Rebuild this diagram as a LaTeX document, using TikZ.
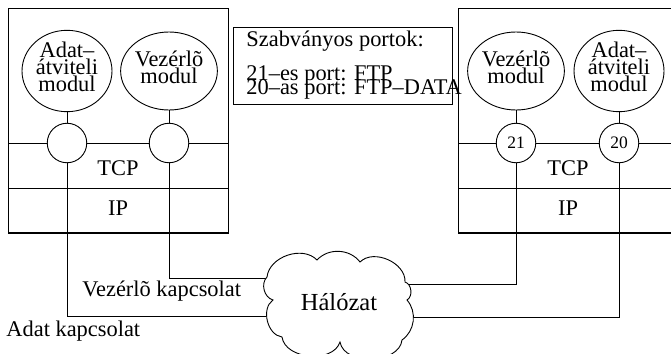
\documentclass[tikz,border=0pt]{standalone}
\usepackage{fontspec}
\setmainfont{Liberation Serif}
\usetikzlibrary{shapes.geometric}
\lineskiplimit=-50pt
\begin{document}
\begin{tikzpicture}[x=1pt,y=-1pt,line width=0.9pt,
  txt/.style={font=\fontsize{22.4}{17}\selectfont},
  hostbox/.style={draw,minimum width=220,minimum height=224.5,inner sep=0,anchor=north west},
  rowbox/.style={draw,minimum width=220,minimum height=45,inner sep=0,txt},
  modbox/.style={ellipse,draw,fill=white,minimum width=90,minimum height=78,inner sep=0,align=center,txt,text depth=8pt},
  portbox/.style={circle,draw,fill=white,minimum size=39.5,inner sep=0,font=\fontsize{17.5}{20}\selectfont}]
\useasboundingbox (0,0) rectangle (671,353);
\clip (0,0) rectangle (671,353);
% hosts
\node[hostbox] (hostL) at (8,8) {};
\node[hostbox] (hostR) at (458,8) {};
\node[rowbox,text height=19.8pt] (tcpL) at (118,165.5) {TCP};
\node[rowbox,minimum height=44.5,text height=10.8pt] (ipL) at (118,210.25) {IP};
\node[rowbox,text height=19.8pt] (tcpR) at (568,165.5) {TCP};
\node[rowbox,minimum height=44.5,text height=10.8pt] (ipR) at (568,210.25) {IP};
% connection end points on the cloud
\coordinate (nV) at (267,278);
\coordinate (nA) at (265.5,316);
\coordinate (nV2) at (405.5,284);
\coordinate (nA2) at (413,317);
% ports and modules
\node[portbox] (pL1) at (67,143) {};
\node[portbox] (pL2) at (169,143) {};
\node[portbox] (pR1) at (516,143) {21};
\node[portbox] (pR2) at (619,143) {20};
\node[modbox] (mL1) at (67,71) {Adat–\\átviteli\\modul};
\node[modbox] (mL2) at (169,71) {Vezérlõ\\modul};
\node[modbox] (mR1) at (516,71) {Vezérlõ\\modul};
\node[modbox] (mR2) at (619,71) {Adat–\\átviteli\\modul};
% connectors
\draw (mL1) -- (pL1);
\draw (mL2) -- (pL2);
\draw (mR1) -- (pR1);
\draw (mR2) -- (pR2);
\draw (pL1) |- (nA);
\draw (pL2) |- (nV);
\draw (pR1) |- (nV2);
\draw (pR2) |- (nA2);
% network cloud
\draw[fill=white] (267,277) to[bend left=65] (317,260) to[bend left=50] (360,262)
  to[bend left=69] (405,282) to[bend left=67] (407,300) to[bend left=48] (402,340)
  to[bend left=82] (340,342) to[bend left=77] (282,337) to[bend left=69] (273,300)
  to[bend left=60] cycle;
\node[font=\fontsize{24.5}{28}\selectfont,anchor=base,inner sep=0] (net) at (339,310) {Hálózat};
% labels
\node[txt,anchor=base west,inner sep=0] (lV) at (82,296.7) {Vezérlõ kapcsolat};
\node[txt,anchor=base west,inner sep=0] (lA) at (6,336) {Adat kapcsolat};
% ports legend
\node[draw,anchor=north west,minimum width=219,minimum height=77,inner sep=0] (legend) at (233,27) {};
\node[anchor=north west,inner sep=0,align=left,font=\fontsize{22.4}{14}\selectfont] (legtxt) at (246,30.5)
  {Szabványos portok:\\[20pt]21–es port: FTP\\20–as port: FTP–DATA};
\end{tikzpicture}
\end{document}
